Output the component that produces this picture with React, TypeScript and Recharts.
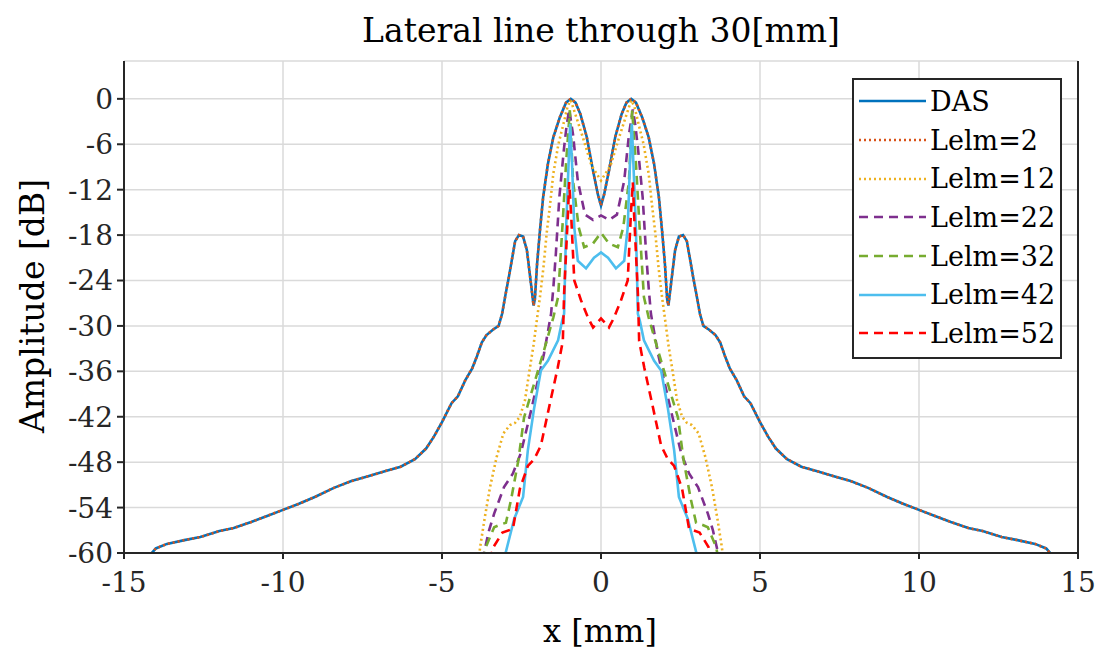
import { LineChart, Line, XAxis, YAxis, CartesianGrid, Legend } from "recharts"

// x [mm], amplitude [dB]
const das: [number, number][] = [
  [-14.25, -60.6], [-14.0, -59.4], [-13.65, -58.8], [-13.1, -58.3], [-12.6, -57.9], [-12.0, -57.1],
  [-11.55, -56.7], [-11.0, -55.9], [-10.5, -55.1], [-10.0, -54.3], [-9.5, -53.5], [-9.0, -52.6],
  [-8.4, -51.4], [-7.85, -50.5], [-7.35, -49.9], [-6.8, -49.2], [-6.3, -48.6], [-5.85, -47.6],
  [-5.5, -46.2], [-5.25, -44.6], [-5.0, -42.7], [-4.7, -40.2], [-4.5, -39.3], [-4.27, -37.2],
  [-4.05, -35.6], [-3.9, -34.0], [-3.75, -32.2], [-3.6, -31.2], [-3.4, -30.5], [-3.22, -30.0],
  [-3.11, -28.4], [-3.0, -25.8], [-2.9, -23.6], [-2.8, -21.2], [-2.7, -18.8], [-2.58, -18.0],
  [-2.45, -18.2], [-2.33, -20.0], [-2.2, -24.5], [-2.12, -27.3], [-2.08, -26.5], [-2.01, -21.8],
  [-1.92, -17.4], [-1.82, -13.0], [-1.67, -8.6], [-1.5, -5.1], [-1.3, -2.5], [-1.1, -0.5],
  [-0.95, 0], [-0.8, -0.5], [-0.65, -2.0], [-0.45, -5.0], [-0.25, -9.5], [-0.1, -12.6],
  [0, -14.1],
  [0.1, -12.6], [0.25, -9.5], [0.45, -5.0], [0.65, -2.0], [0.8, -0.5], [0.95, 0],
  [1.1, -0.5], [1.3, -2.5], [1.5, -5.1], [1.67, -8.6], [1.82, -13.0], [1.92, -17.4],
  [2.01, -21.8], [2.08, -26.5], [2.12, -27.3], [2.2, -24.5], [2.33, -20.0], [2.45, -18.2],
  [2.58, -18.0], [2.7, -18.8], [2.8, -21.2], [2.9, -23.6], [3.0, -25.8], [3.11, -28.4],
  [3.22, -30.0], [3.4, -30.5], [3.6, -31.2], [3.75, -32.2], [3.9, -34.0], [4.05, -35.6],
  [4.27, -37.2], [4.5, -39.3], [4.7, -40.2], [5.0, -42.7], [5.25, -44.6], [5.5, -46.2],
  [5.85, -47.6], [6.3, -48.6], [6.8, -49.2], [7.35, -49.9], [7.85, -50.5], [8.4, -51.4],
  [9.0, -52.6], [9.5, -53.5], [10.0, -54.3], [10.5, -55.1], [11.0, -55.9], [11.55, -56.7],
  [12.0, -57.1], [12.6, -57.9], [13.1, -58.3], [13.65, -58.8], [14.0, -59.4], [14.25, -60.6],
]

// Lelm=2 sits exactly on top of DAS
const lelm2: [number, number][] = das

const lelm12: [number, number][] = [
  [-3.85, -61], [-3.8, -59.2], [-3.65, -55.2], [-3.49, -51.3], [-3.28, -47.3], [-3.07, -44.2],
  [-2.86, -43.1], [-2.7, -42.8], [-2.55, -42.0], [-2.39, -39.8], [-2.23, -35.4], [-2.12, -32.5],
  [-2.02, -29.3], [-1.92, -26.2], [-1.81, -22.3], [-1.71, -17.8], [-1.6, -13.9], [-1.5, -9.9],
  [-1.34, -6.0], [-1.18, -3.3], [-1.05, -1.0], [-0.95, -0.2], [-0.77, -2.5], [-0.57, -5.1],
  [-0.3, -8.8], [0, -10.8], [0.3, -8.8], [0.57, -5.1], [0.77, -2.5], [0.95, -0.2],
  [1.05, -1.0], [1.18, -3.3], [1.34, -6.0], [1.5, -9.9], [1.6, -13.9], [1.71, -17.8],
  [1.81, -22.3], [1.92, -26.2], [2.02, -29.3], [2.12, -32.5], [2.23, -35.4], [2.39, -39.8],
  [2.55, -42.0], [2.7, -42.8], [2.86, -43.1], [3.07, -44.2], [3.28, -47.3], [3.49, -51.3],
  [3.65, -55.2], [3.8, -59.2], [3.85, -61],
]

const lelm22: [number, number][] = [
  [-3.72, -61], [-3.68, -60], [-3.52, -57.0], [-3.36, -54.8], [-3.05, -51.3], [-2.77, -49.5],
  [-2.52, -46.8], [-2.2, -41.2], [-1.89, -35.5], [-1.79, -33.6], [-1.57, -28.4], [-1.5, -25.0],
  [-1.42, -20.5], [-1.31, -13.0], [-1.16, -6.4], [-1.08, -3.5], [-1.0, -1.4], [-0.88, -4.7],
  [-0.73, -10.8], [-0.62, -13.0], [-0.5, -15.3], [-0.25, -16.0], [0, -15.4], [0.25, -16.0],
  [0.5, -15.3], [0.62, -13.0], [0.73, -10.8], [0.88, -4.7], [1.0, -1.4], [1.08, -3.5],
  [1.16, -6.4], [1.31, -13.0], [1.42, -20.5], [1.5, -25.0], [1.57, -28.4], [1.79, -33.6],
  [1.89, -35.5], [2.2, -41.2], [2.52, -46.8], [2.77, -49.5], [3.05, -51.3], [3.36, -54.8],
  [3.52, -57.0], [3.68, -60], [3.72, -61],
]

const lelm32: [number, number][] = [
  [-3.7, -61], [-3.62, -59.2], [-3.36, -56.6], [-3.2, -56.3], [-2.99, -56.0], [-2.83, -53.0],
  [-2.6, -47.8], [-2.42, -42.1], [-2.1, -37.6], [-1.79, -33.2], [-1.5, -28.9], [-1.35, -26.2],
  [-1.2, -16.0], [-1.1, -8.6], [-0.98, -1.5], [-0.88, -10.8], [-0.7, -17.0], [-0.53, -19.6],
  [-0.25, -19.1], [0, -17.7], [0.25, -19.1], [0.53, -19.6], [0.7, -17.0], [0.88, -10.8],
  [0.98, -1.5], [1.1, -8.6], [1.2, -16.0], [1.35, -26.2], [1.5, -28.9], [1.79, -33.2],
  [2.1, -37.6], [2.42, -42.1], [2.6, -47.8], [2.83, -53.0], [2.99, -56.0], [3.2, -56.3],
  [3.36, -56.6], [3.62, -59.2], [3.7, -61],
]

const lelm42: [number, number][] = [
  [-3.02, -61], [-3.0, -60], [-2.73, -55.5], [-2.45, -52.6], [-2.3, -46.4], [-2.1, -40.8],
  [-1.89, -35.9], [-1.67, -34.6], [-1.35, -31.9], [-1.22, -29.3], [-1.16, -28.4], [-1.1, -17.4],
  [-1.04, -10.8], [-0.97, -3.3], [-0.91, -8.6], [-0.84, -17.0], [-0.73, -21.4], [-0.47, -22.4],
  [-0.22, -21.0], [0, -20.3], [0.22, -21.0], [0.47, -22.4], [0.73, -21.4], [0.84, -17.0],
  [0.91, -8.6], [0.97, -3.3], [1.04, -10.8], [1.1, -17.4], [1.16, -28.4], [1.22, -29.3],
  [1.35, -31.9], [1.67, -34.6], [1.89, -35.9], [2.1, -40.8], [2.3, -46.4], [2.45, -52.6],
  [2.73, -55.5], [3.0, -60], [3.02, -61],
]

const lelm52: [number, number][] = [
  [-3.5, -61], [-3.38, -59.2], [-3.1, -57.3], [-2.77, -56.8], [-2.55, -51.5], [-2.3, -48.5],
  [-2.1, -47.6], [-1.89, -45.8], [-1.62, -40.5], [-1.36, -35.5], [-1.2, -32.0], [-1.16, -25.7],
  [-1.04, -15.2], [-1.0, -11.0], [-0.94, -15.2], [-0.84, -24.0], [-0.63, -26.6], [-0.4, -29.0],
  [-0.25, -30.2], [0, -29.0], [0.25, -30.2], [0.4, -29.0], [0.63, -26.6], [0.84, -24.0],
  [0.94, -15.2], [1.0, -11.0], [1.04, -15.2], [1.16, -25.7], [1.2, -32.0], [1.36, -35.5],
  [1.62, -40.5], [1.89, -45.8], [2.1, -47.6], [2.3, -48.5], [2.55, -51.5], [2.77, -56.8],
  [3.1, -57.3], [3.38, -59.2], [3.5, -61],
]

const xTicks = [-15, -10, -5, 0, 5, 10, 15]
const yTicks = [-60, -54, -48, -42, -36, -30, -24, -18, -12, -6, 0]
const yMinorTicks = [
  -60, -59, -58, -57, -56, -55, -54, -53, -52, -51, -50, -49, -48, -47, -46, -45, -44, -43,
  -42, -41, -40, -39, -38, -37, -36, -35, -34, -33, -32, -31, -30, -29, -28, -27, -26, -25,
  -24, -23, -22, -21, -20, -19, -18, -17, -16, -15, -14, -13, -12, -11, -10, -9, -8, -7,
  -6, -5, -4, -3, -2, -1, 0, 1, 2, 3, 4, 5,
]

const series = [
  { name: "DAS", data: das, color: "#0072BD", dash: undefined },
  { name: "Lelm=2", data: lelm2, color: "#D95319", dash: "2 3" },
  { name: "Lelm=12", data: lelm12, color: "#EDB120", dash: "2 3" },
  { name: "Lelm=22", data: lelm22, color: "#7E2F8E", dash: "9 6" },
  { name: "Lelm=32", data: lelm32, color: "#77AC30", dash: "9 6" },
  { name: "Lelm=42", data: lelm42, color: "#4DBEEE", dash: undefined },
  { name: "Lelm=52", data: lelm52, color: "#FF0000", dash: "9 6" },
]

const FONT = "'DejaVu Serif', 'Liberation Serif', serif"
const INK = "#262626"

function LegendBox() {
  return (
    <div
      style={{
        border: `2px solid ${INK}`,
        background: "#fff",
        width: 206,
        padding: "2px 0 4px 0",
        fontFamily: FONT,
        fontSize: 27,
        color: "#000",
        boxSizing: "content-box",
      }}
    >
      {series.map((s) => (
        <div key={s.name} style={{ display: "flex", alignItems: "center", height: 38.7 }}>
          <svg width={76} height={10} style={{ flex: "none" }}>
            <line x1={5} y1={5} x2={72} y2={5} stroke={s.color} strokeWidth={2.5} strokeDasharray={s.dash} />
          </svg>
          <span style={{ whiteSpace: "nowrap" }}>{s.name}</span>
        </div>
      ))}
    </div>
  )
}

const label = {
  position: "absolute" as const,
  transform: "translate(-50%, -50%)",
  whiteSpace: "nowrap" as const,
  color: "#000",
}

export default function App() {
  return (
    <div style={{ position: "relative", width: 1097, height: 653, fontFamily: FONT, overflow: "hidden" }}>
      <style>{`body { margin: 0; } svg.recharts-surface { overflow: visible; }`}</style>
      <div style={{ ...label, left: 601, top: 30, fontSize: 33 }}>Lateral line through 30[mm]</div>
      <div style={{ ...label, left: 600, top: 631, fontSize: 32 }}>x [mm]</div>
      <div style={{ ...label, left: 32, top: 306, fontSize: 33, transform: "translate(-50%, -50%) rotate(-90deg)" }}>
        Amplitude [dB]
      </div>
      <LineChart width={1097} height={653} margin={{ top: 61, right: 0, left: 0, bottom: 0 }}>
        <CartesianGrid stroke="#dadada" strokeWidth={1.5} />
        <XAxis
          dataKey="x"
          type="number"
          domain={[-15, 15]}
          ticks={xTicks}
          allowDataOverflow
          height={100}
          tickSize={6}
          tickMargin={13}
          interval={0}
          stroke={INK}
          strokeWidth={2}
          tick={{ fill: INK, fontSize: 28, fontFamily: FONT }}
        />
        <XAxis
          xAxisId="top"
          orientation="top"
          dataKey="x"
          type="number"
          domain={[-15, 15]}
          ticks={xTicks}
          allowDataOverflow
          height={0}
          tickSize={6}
          interval={0}
          stroke={INK}
          strokeWidth={2}
          tick={false}
        />
        <YAxis
          yAxisId="minorLeft"
          type="number"
          domain={[-60, 5]}
          ticks={yMinorTicks}
          allowDataOverflow
          width={0}
          tickSize={3}
          interval={0}
          axisLine={false}
          stroke={INK}
          strokeWidth={2}
          tick={false}
        />
        <YAxis
          type="number"
          domain={[-60, 5]}
          ticks={yTicks}
          allowDataOverflow
          width={124}
          tickSize={7}
          tickMargin={4}
          interval={0}
          stroke={INK}
          strokeWidth={2}
          tick={{ fill: INK, fontSize: 28, fontFamily: FONT }}
        />
        <YAxis
          yAxisId="minorRight"
          orientation="right"
          type="number"
          domain={[-60, 5]}
          ticks={yMinorTicks}
          allowDataOverflow
          width={0}
          tickSize={3}
          interval={0}
          axisLine={false}
          stroke={INK}
          strokeWidth={2}
          tick={false}
        />
        <YAxis
          yAxisId="right"
          orientation="right"
          type="number"
          domain={[-60, 5]}
          ticks={yTicks}
          allowDataOverflow
          width={19}
          tickSize={7}
          interval={0}
          stroke={INK}
          strokeWidth={2}
          tick={false}
        />
        <Legend
          layout="vertical"
          verticalAlign="middle"
          align="center"
          wrapperStyle={{ top: 78, left: 852, width: 210 }}
          content={() => <LegendBox />}
        />
        {series.map((s) => (
          <Line
            key={s.name}
            name={s.name}
            data={s.data.map(([x, y]) => ({ x, y }))}
            dataKey="y"
            type="linear"
            stroke={s.color}
            strokeWidth={2.6}
            strokeDasharray={s.dash}
            dot={false}
            activeDot={false}
            isAnimationActive={false}
          />
        ))}
      </LineChart>
    </div>
  )
}
